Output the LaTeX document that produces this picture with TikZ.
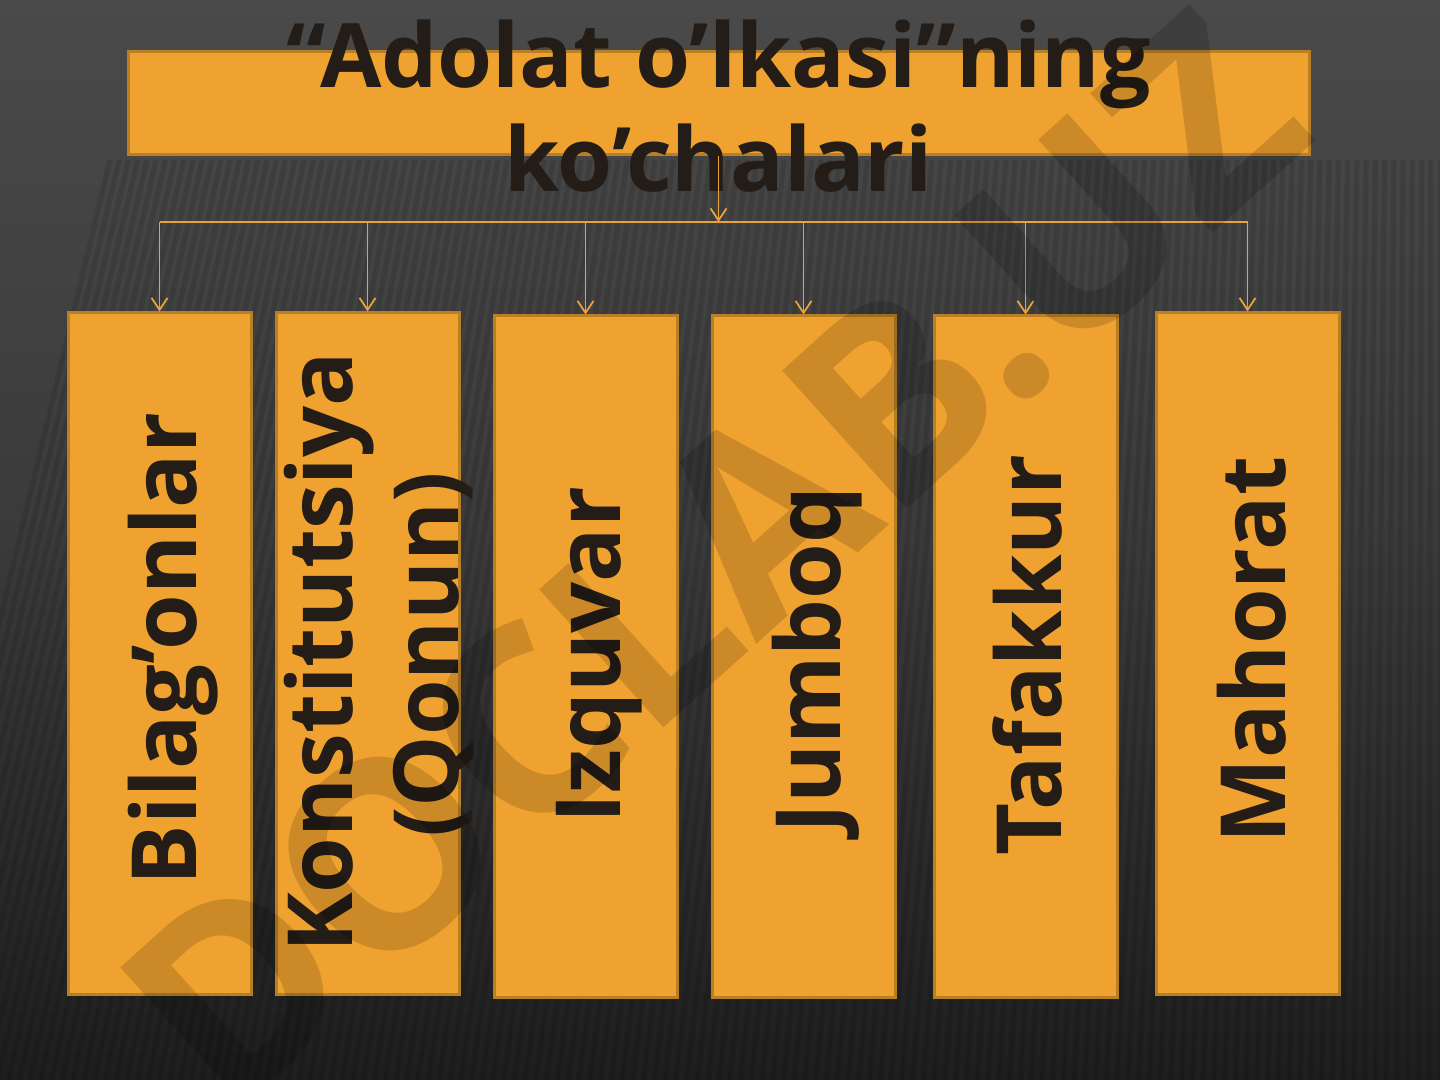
\documentclass[tikz,border=0pt]{standalone}
\usepackage{fontspec}
\setmainfont{Open Sans}
\usetikzlibrary{arrows.meta}
\definecolor{bgtop}{HTML}{4A4A4A}
\definecolor{bgmid}{HTML}{3A3A3A}
\definecolor{bgbot}{HTML}{1E1E1E}
\definecolor{boxfill}{HTML}{EFA230}
\definecolor{boxline}{HTML}{B97F25}
\definecolor{ink}{HTML}{231C17}
\definecolor{connc}{HTML}{E9A23A}
\begin{document}
\begin{tikzpicture}[x=0.5pt,y=-0.5pt,
  box/.style={draw=boxline, line width=1.5pt, fill=boxfill, minimum width=91.5pt, minimum height=340.5pt, inner sep=0pt},
  boxtxt/.style={rotate=90, anchor=base, inner sep=0pt, text=ink, font=\fontsize{45}{54}\selectfont\bfseries},
  titletxt/.style={text=ink, font=\fontsize{44.5}{52}\selectfont\bfseries, anchor=base, inner sep=0pt},
  link/.style={draw=connc, line width=0.9pt},
  linkarrow/.style={link, -{Straight Barb[length=6pt,width=8pt]}}]
\useasboundingbox (0,0) rectangle (1440,1080);
\shade[top color=bgtop, bottom color=bgbot, middle color=bgmid] (0,0) rectangle (1440,1080);
\foreach \x in {0,10,...,1600} {
  \pgfmathsetmacro{\s}{110*(1-\x/1440)}
  \draw[black, opacity=0.10, line width=2.5pt] (\x-\s,1080) -- (\x+\s,160);
}
% title
\node[draw=boxline, line width=1.5pt, fill=boxfill, minimum width=590.5pt, minimum height=51.5pt, inner sep=0pt] (titlebox) at (718.5,103.5) {};
\node[titletxt] (t1) at (718.5,88) {“Adolat o’lkasi”ning};
\node[titletxt] (t2) at (718.5,192) {ko’chalari};
% boxes
\node[box] (b1) at (159.5,653.5) {};
\node[box] (b2) at (367.5,653.5) {};
\node[box] (b3) at (585.5,656.5) {};
\node[box] (b4) at (803.5,656.5) {};
\node[box] (b5) at (1025.5,656.5) {};
\node[box] (b6) at (1247.5,653.5) {};
\node[boxtxt] (b1t) at (196,649) {Bilag’onlar};
\node[boxtxt] (b2t) at (352,652.5) {Konstitutsiya};
\node[boxtxt] (b2u) at (458,655) {(Qonun)};
\node[boxtxt] (b3t) at (620,655) {Izquvar};
\node[boxtxt] (b4t) at (840,660) {Jumboq};
\node[boxtxt] (b5t) at (1061,655) {Tafakkur};
\node[boxtxt] (b6t) at (1285,650) {Mahorat};
% connectors
\coordinate (hub) at (718.5,222);
\coordinate (left) at (159.5,222);
\coordinate (right) at (1247.5,222);
\draw[linkarrow] (titlebox.south) -- (hub);
\draw[link] (left) -- (right);
\foreach \b in {b1,b2,b3,b4,b5,b6}
  \draw[linkarrow] (\b.north |- hub) -- (\b.north);
% watermark
\node[rotate=42, text=black, opacity=0.15, font=\fontsize{130}{130}\selectfont\bfseries, inner sep=0pt] (wm) at (712,560) {DOCLAB.UZ};
\end{tikzpicture}
\end{document}
